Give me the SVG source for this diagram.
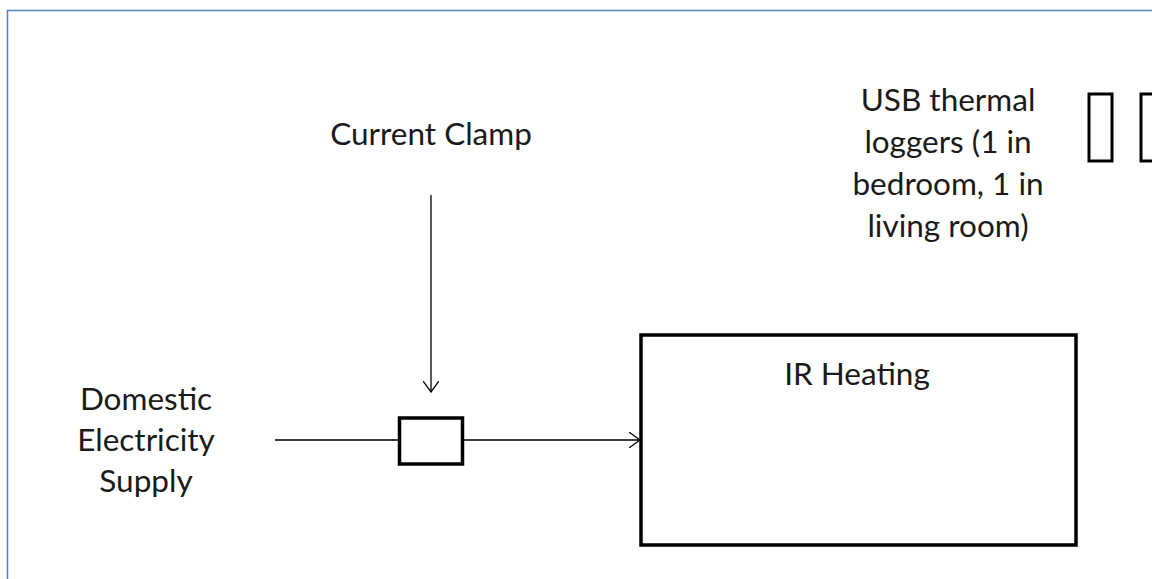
<svg xmlns="http://www.w3.org/2000/svg" width="1152" height="579" viewBox="0 0 1152 579">
<style>
.t{font-family:Lato,"Open Sans","Liberation Sans",sans-serif;font-size:31.5px;fill:#1a1a1a;text-anchor:middle}
.box{fill:#fff;stroke:#000;stroke-width:3.5}
.ln{stroke:#000;stroke-width:1.3;fill:none}
</style>
<defs>
<marker id="ah" viewBox="0 0 12 16" refX="11" refY="8" markerWidth="12" markerHeight="16" markerUnits="userSpaceOnUse" orient="auto">
<path d="M0,0 L11,8 L0,16" fill="none" stroke="#000" stroke-width="1.3"/>
</marker>
</defs>
<rect width="1152" height="579" fill="#fff"/>
<rect x="7.5" y="10.5" width="1160" height="600" fill="none" stroke="#4f81bd" stroke-width="1.5"/>
<g id="connectors">
<line class="ln" x1="431" y1="195" x2="431" y2="392" marker-end="url(#ah)"/>
<line class="ln" x1="275" y1="440" x2="399" y2="440"/>
<line class="ln" x1="463" y1="440" x2="640" y2="440" marker-end="url(#ah)"/>
</g>
<g id="current-clamp">
<text class="t" x="431" y="145">Current Clamp</text>
</g>
<g id="clamp-box">
<rect class="box" x="399.5" y="418" width="63" height="46"/>
</g>
<g id="supply">
<text class="t" x="146" y="410">Domestic</text>
<text class="t" x="146" y="451">Electricity</text>
<text class="t" x="146" y="492">Supply</text>
</g>
<g id="ir-heating">
<rect class="box" x="641" y="335" width="435" height="210"/>
<text class="t" x="857" y="385">IR Heating</text>
</g>
<g id="usb-loggers">
<text class="t" x="948" y="111">USB thermal</text>
<text class="t" x="948" y="153">loggers (1 in</text>
<text class="t" x="948" y="195">bedroom, 1 in</text>
<text class="t" x="948" y="237">living room)</text>
</g>
<g id="logger-1">
<rect x="1089" y="94" width="23" height="67" fill="#fff" stroke="#000" stroke-width="3"/>
</g>
<g id="logger-2">
<rect x="1141" y="94" width="23" height="67" fill="#fff" stroke="#000" stroke-width="3"/>
</g>
</svg>
